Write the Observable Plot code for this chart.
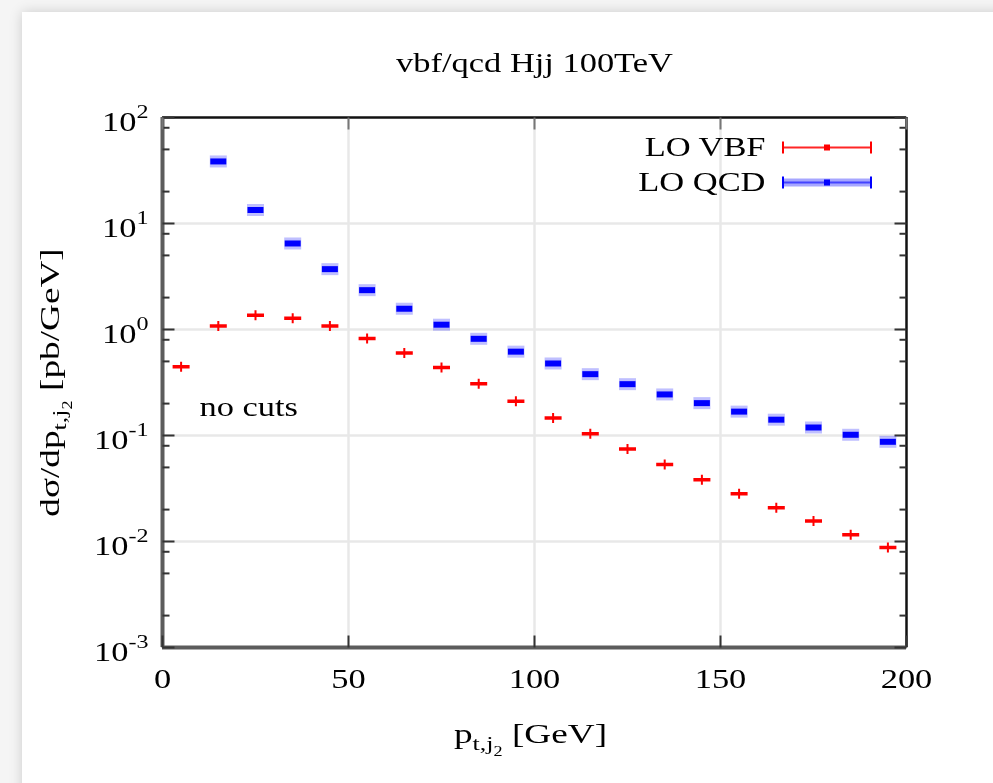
<!DOCTYPE html>
<html><head><meta charset="utf-8">
<script src="https://cdn.jsdelivr.net/npm/d3@7"></script>
<script src="https://cdn.jsdelivr.net/npm/@observablehq/plot@0.6"></script>
<style>
html,body{margin:0;padding:0;background:#fff;}
#page{position:relative;width:993px;height:783px;overflow:hidden;background:#f5f5f5;}
#card{position:absolute;left:22px;top:12px;width:1000px;height:800px;background:#fff;box-shadow:0 0 12px rgba(0,0,0,0.17);}
#chart{position:absolute;left:0;top:0;width:993px;height:783px;}
#chart svg{filter:blur(0.35px);}
</style></head><body>
<div id="page"><div id="card"></div><div id="chart"></div></div>
<script>
// ---- data ----
const binCenters = [5,15,25,35,45,55,65,75,85,95,105,115,125,135,145,155,165,175,185,195];
const vbf = [0.445,1.08,1.36,1.28,1.08,0.822,0.600,0.438,0.307,0.211,0.146,0.104,0.0744,0.0533,0.0382,0.0282,0.0208,0.0156,0.0116,0.0088];
const qcd = [null,38.5,13.4,6.48,3.71,2.35,1.57,1.11,0.817,0.618,0.478,0.379,0.305,0.244,0.202,0.168,0.141,0.119,0.1016,0.0872];
const seriesNames = ["LO VBF","LO QCD"];
const yMajor = [1e-3,1e-2,1e-1,1,10,100];
const yMinorMult = [2,5,8];
const xTicks = [0,50,100,150,200];
const title = "vbf/qcd Hjj 100TeV";
const xLabel = "p_{t,j_{2}} [GeV]";
const yLabel = "dσ/dp_{t,j_{2}} [pb/GeV]";
const note = "no cuts";

(function () {
const W = 993, H = 783;
const FS = 28, STRETCH = 1.23, LABEL_STRETCH = 1.33;
const RED = "#ff0000", BLUE = "#0000ff";

const points = binCenters.map((x, i) => ({x, vbf: vbf[i], qcd: qcd[i]}));
const yMinor = d3.range(-3, 2).flatMap(e => yMinorMult.map(m => m * 10 ** e));

const sym = f => ({draw(c) { f(c); }});
const tickSym = (dx, dy) => sym(c => { c.moveTo(0, 0); c.lineTo(dx, dy); });
const redPlus = sym(c => { c.rect(-8.5, -1.75, 17, 3.5); c.rect(-1, -5, 2, 10); });
const blueHalo = sym(c => c.rect(-8.5, -6, 17, 12));
const blueCore = sym(c => c.rect(-8, -3, 16, 6));

const chart = Plot.plot({
  width: W, height: H,
  marginLeft: 162, marginRight: 87, marginTop: 117, marginBottom: 136,
  style: {background: "transparent", fontFamily: "'Liberation Serif','Times New Roman',serif", fontSize: FS + "px", color: "black", overflow: "visible"},
  x: {domain: [xTicks[0], xTicks[xTicks.length - 1]], axis: null},
  y: {type: "log", domain: [yMajor[0], yMajor[yMajor.length - 1]], axis: null},
  marks: [
    Plot.ruleY(yMajor.slice(1, -1), {stroke: "#e8e8e8", strokeWidth: 2.5}),
    Plot.ruleX(xTicks.slice(1, -1), {stroke: "#e8e8e8", strokeWidth: 2.5}),
    Plot.ruleY([yMajor[yMajor.length - 1]], {stroke: "#111", strokeWidth: 2.5}),
    Plot.ruleX([xTicks[xTicks.length - 1]], {stroke: "#111", strokeWidth: 2.5}),
    Plot.ruleX([xTicks[0]], {stroke: "#5c5c5c", strokeWidth: 4}),
    Plot.ruleY([yMajor[0]], {stroke: "#5c5c5c", strokeWidth: 4}),
    Plot.dot(yMajor, {y: d => d, frameAnchor: "left", symbol: tickSym(12, 0), fill: "none", stroke: "#333", strokeWidth: 2}),
    Plot.dot(yMinor, {y: d => d, frameAnchor: "left", symbol: tickSym(7, 0), fill: "none", stroke: "#333", strokeWidth: 2}),
    Plot.dot(yMajor, {y: d => d, frameAnchor: "right", symbol: tickSym(-12, 0), fill: "none", stroke: "#333", strokeWidth: 2}),
    Plot.dot(yMinor, {y: d => d, frameAnchor: "right", symbol: tickSym(-7, 0), fill: "none", stroke: "#333", strokeWidth: 2}),
    Plot.dot(xTicks, {x: d => d, frameAnchor: "bottom", symbol: tickSym(0, -12), fill: "none", stroke: "#333", strokeWidth: 2}),
    Plot.dot(xTicks, {x: d => d, frameAnchor: "top", symbol: tickSym(0, 12), fill: "none", stroke: "#777", strokeWidth: 2}),
    Plot.dot(points, {x: "x", y: "qcd", symbol: blueHalo, fill: BLUE, fillOpacity: 0.25, stroke: "none"}),
    Plot.dot(points, {x: "x", y: "qcd", symbol: blueCore, fill: BLUE, stroke: "none"}),
    Plot.dot(points, {x: "x", y: "vbf", symbol: redPlus, fill: RED, stroke: "none"}),
    Plot.text(yMajor, {y: d => d, frameAnchor: "left", dx: -14, dy: 13, textAnchor: "end", lineAnchor: "bottom",
      text: d => `10^{${Math.round(Math.log10(d))}}`}),
    Plot.text(xTicks, {x: d => d, frameAnchor: "bottom", dy: 40, lineAnchor: "bottom", text: d => String(d)}),
    Plot.text([title], {frameAnchor: "top", dy: -46, lineAnchor: "bottom", text: d => d}),
    Plot.text([xLabel], {frameAnchor: "bottom", dx: -4, dy: 95, textAnchor: "middle", lineAnchor: "bottom", text: d => d, className: "axislabel"}),
    Plot.text([yLabel], {frameAnchor: "left", dx: -104, rotate: -90, textAnchor: "middle", lineAnchor: "bottom", text: d => d, className: "axislabel"}),
    Plot.text([note], {frameAnchor: "top-left", dx: 37, dy: 298, textAnchor: "start", lineAnchor: "bottom", text: d => d}),
    Plot.text([seriesNames[0]], {frameAnchor: "top-right", dx: -141, dy: 38, textAnchor: "end", lineAnchor: "bottom", text: d => d}),
    Plot.text([seriesNames[1]], {frameAnchor: "top-right", dx: -141, dy: 73, textAnchor: "end", lineAnchor: "bottom", text: d => d})
  ]
});

document.getElementById("chart").appendChild(chart);

function segments(str, size, off, out) {
  let i = 0, buf = "";
  const flush = () => { if (buf) { out.push({t: buf, size, off}); buf = ""; } };
  while (i < str.length) {
    const ch = str[i];
    if ((ch === "_" || ch === "^") && str[i + 1] === "{") {
      flush();
      let depth = 0, j = i + 1;
      for (; j < str.length; j++) {
        if (str[j] === "{") depth++;
        else if (str[j] === "}") { depth--; if (depth === 0) break; }
      }
      const inner = str.slice(i + 2, j);
      const s2 = size * 0.7;
      const o2 = ch === "_" ? off + size * 0.28 : off - size * 0.46;
      segments(inner, s2, o2, out);
      i = j + 1;
    } else { buf += ch; i++; }
  }
  flush();
  return out;
}
const svg = d3.select(chart);
svg.selectAll("text").each(function () {
  const s = this.textContent;
  const isAxisLabel = s === xLabel || s === yLabel;
  if (s.includes("{")) {
    const segs = segments(s, FS, 0, []);
    this.textContent = "";
    let cur = 0;
    for (const g of segs) {
      const ts = document.createElementNS("http://www.w3.org/2000/svg", "tspan");
      ts.setAttribute("font-size", g.size.toFixed(1) + "px");
      if (g.off !== cur) ts.setAttribute("dy", (g.off - cur).toFixed(1));
      cur = g.off;
      ts.textContent = g.t;
      this.appendChild(ts);
    }
  }
  const tr = this.getAttribute("transform") || "";
  this.setAttribute("transform", tr + ` scale(${isAxisLabel ? LABEL_STRETCH : STRETCH},1)`);
});

const fx = chart.scale("x"), fy = chart.scale("y");
const frameRight = fx.apply(xTicks[xTicks.length - 1]), frameTop = fy.apply(yMajor[yMajor.length - 1]);
const keyX1 = frameRight - 123, keyX2 = frameRight - 35, keyMid = (keyX1 + keyX2) / 2;
const lg = svg.append("g");
[[RED, frameTop + 30.5, false], [BLUE, frameTop + 65.5, true]].forEach(([col, yy, halo]) => {
  if (halo) lg.append("rect").attr("x", keyX1).attr("y", yy - 4).attr("width", keyX2 - keyX1).attr("height", 8).attr("fill", col).attr("fill-opacity", 0.35);
  lg.append("line").attr("x1", keyX1).attr("x2", keyX2).attr("y1", yy).attr("y2", yy).attr("stroke", col).attr("stroke-width", halo ? 2 : 2.2).attr("stroke-opacity", halo ? 0.6 : 0.85);
  for (const xx of [keyX1, keyX2]) lg.append("line").attr("x1", xx).attr("x2", xx).attr("y1", yy - 6).attr("y2", yy + 6).attr("stroke", col).attr("stroke-width", 2);
  lg.append("rect").attr("x", keyMid - 3).attr("y", yy - 3).attr("width", 6).attr("height", 6).attr("fill", col);
});
})();
</script>
</body></html>
